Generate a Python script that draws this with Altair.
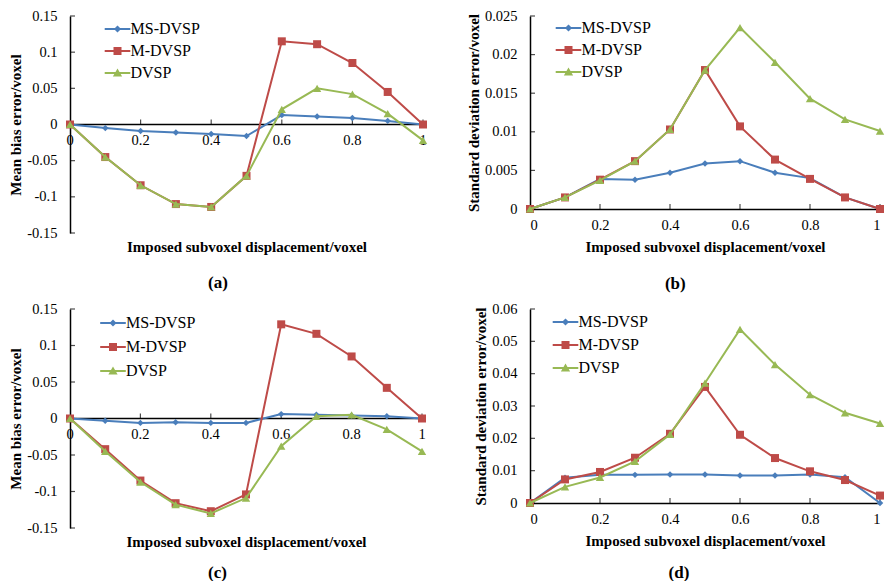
import altair as alt
import pandas as pd

x_vals = [0.0, 0.1, 0.2, 0.3, 0.4, 0.5, 0.6, 0.7, 0.8, 0.9, 1.0]
series = ["MS-DVSP", "M-DVSP", "DVSP"]
colors = ["#4A7EBB", "#BE4B48", "#98B954"]
shapes = ["diamond", "square", "triangle-up"]
sizes = [42, 64, 70]
x_tick_values = [0, 0.2, 0.4, 0.6, 0.8, 1]

# (a) mean bias error
a_ms = [0, -0.005, -0.009, -0.011, -0.013, -0.016, 0.013, 0.011, 0.009, 0.005, 0]
a_m = [0, -0.045, -0.084, -0.110, -0.114, -0.071, 0.115, 0.111, 0.085, 0.045, 0]
a_d = [0, -0.045, -0.084, -0.110, -0.114, -0.071, 0.021, 0.050, 0.042, 0.015, -0.022]
# (b) standard deviation error
b_ms = [0, 0.0015, 0.0039, 0.0038, 0.0047, 0.0059, 0.0062, 0.0047, 0.0040, 0.0015, 0]
b_m = [0, 0.0015, 0.0038, 0.0062, 0.0103, 0.0180, 0.0107, 0.0064, 0.0039, 0.0015, 0]
b_d = [0, 0.0015, 0.0037, 0.0062, 0.0103, 0.0180, 0.0235, 0.0190, 0.0143, 0.0116, 0.0101]
# (c) mean bias error
c_ms = [0, -0.003, -0.006, -0.005, -0.006, -0.006, 0.006, 0.005, 0.004, 0.003, 0]
c_m = [0, -0.042, -0.085, -0.116, -0.127, -0.104, 0.129, 0.116, 0.085, 0.042, 0]
c_d = [0, -0.045, -0.087, -0.118, -0.130, -0.109, -0.038, 0.003, 0.005, -0.015, -0.045]
# (d) standard deviation error
d_ms = [0, 0.0078, 0.0087, 0.0087, 0.0088, 0.0088, 0.0085, 0.0085, 0.0088, 0.0080, 0]
d_m = [0, 0.0073, 0.0096, 0.0140, 0.0214, 0.0359, 0.0211, 0.0139, 0.0098, 0.0071, 0.0023]
d_d = [0, 0.0050, 0.0079, 0.0129, 0.0212, 0.0371, 0.0537, 0.0428, 0.0335, 0.0279, 0.0246]

bias_ticks = [-0.15, -0.1, -0.05, 0, 0.05, 0.1, 0.15]
sd_b_ticks = [0, 0.005, 0.01, 0.015, 0.02, 0.025]
sd_d_ticks = [0, 0.01, 0.02, 0.03, 0.04, 0.05, 0.06]

# legend symbols: line segment + marker (custom paths)
legend_paths = [
    "M-1.6,-0.125H1.6V0.125H-1.6Z M0,-0.44L0.44,0L0,0.44L-0.44,0Z",
    "M-1.6,-0.125H1.6V0.125H-1.6Z M-0.5,-0.5H0.5V0.5H-0.5Z",
    "M-1.6,-0.125H1.6V0.125H-1.6Z M0,-0.55L0.58,0.45H-0.58Z",
]

SERIF = "Liberation Serif"
XTITLE = "Imposed subvoxel displacement/voxel"


def panel(vals, ydom, yticks, ytitle, caption, w, h, lx, ly, rowpad, zero_axis, cap_off):
    rows = []
    for s, arr in zip(series, vals):
        for xv, yv in zip(x_vals, arr):
            rows.append({"x": xv, "y": yv, "series": s})
    df = pd.DataFrame(rows)

    if zero_axis:
        xaxis = alt.Axis(labels=False, ticks=False, domain=False, grid=False,
                         title=XTITLE, titleFont=SERIF, titleFontSize=15,
                         titleFontWeight="bold", titleColor="black", titlePadding=6)
    else:
        xaxis = alt.Axis(values=x_tick_values, labelExpr="'' + datum.value", ticks=False,
                         grid=False, domainColor="black", domainWidth=1.5,
                         labelFont=SERIF, labelFontSize=14.5, labelColor="black", labelPadding=9,
                         title=XTITLE, titleFont=SERIF, titleFontSize=15,
                         titleFontWeight="bold", titleColor="black", titlePadding=8)
    yaxis = alt.Axis(values=yticks, labelExpr="'' + datum.value", ticks=False, grid=False,
                     domainColor="black", domainWidth=1.5, labelFont=SERIF, labelFontSize=14.5,
                     labelColor="black", labelPadding=13, title=ytitle, titleFont=SERIF,
                     titleFontSize=15, titleFontWeight="bold", titleColor="black", titlePadding=3)
    X = alt.X("x:Q", scale=alt.Scale(domain=[0, 1], nice=False), axis=xaxis)
    Y = alt.Y("y:Q", scale=alt.Scale(domain=ydom, nice=False), axis=yaxis)

    base = alt.Chart(df)
    layers = []
    # inward tick marks on the y axis
    ytdf = pd.DataFrame({"x": [0.0] * len(yticks), "y": yticks})
    layers.append(alt.Chart(ytdf).mark_tick(orient="horizontal", size=5, thickness=1.2,
                                            color="black", xOffset=2.5)
                  .encode(x=X, y=Y))
    # inward tick marks on the x axis (at y = 0)
    xt = [v for v in x_tick_values if v > 0]
    xtdf = pd.DataFrame({"x": xt, "y": [0.0] * len(xt)})
    layers.append(alt.Chart(xtdf).mark_tick(orient="vertical", size=5, thickness=1.2,
                                            color="black", yOffset=-2.5)
                  .encode(x=X, y=Y))
    if zero_axis:
        zdf = pd.DataFrame({"x": [0.0], "x2": [1.0], "y": [0.0]})
        layers.append(alt.Chart(zdf).mark_rule(color="black", strokeWidth=1.5)
                      .encode(x=X, x2="x2:Q", y=Y))
        ldf = pd.DataFrame({"x": x_tick_values, "y": [0.0] * len(x_tick_values),
                            "label": [str(v) for v in x_tick_values]})
        layers.append(alt.Chart(ldf).mark_text(baseline="top", dy=9, font=SERIF, fontSize=14.5,
                                               color="black")
                      .encode(x=X, y=Y, text="label:N"))
    for s, c, sh, sz in zip(series, colors, shapes, sizes):
        sub = base.transform_filter(alt.datum.series == s)
        layers.append(sub.mark_line(color=c, strokeWidth=2).encode(x=X, y=Y))
        layers.append(sub.mark_point(filled=True, shape=sh, size=sz, color=c, opacity=1)
                      .encode(x=X, y=Y))
    leg = alt.Legend(title=None, orient="none", legendX=lx, legendY=ly, padding=0,
                     direction="vertical", symbolSize=256, symbolOpacity=1,
                     symbolStrokeWidth=0, labelFont=SERIF, labelFontSize=16,
                     labelColor="black", labelOffset=5, rowPadding=rowpad)
    layers.append(base.transform_filter("datum.x < -5").mark_point(filled=True, opacity=1)
                  .encode(x=X, y=Y,
                          color=alt.Color("series:N", scale=alt.Scale(domain=series, range=colors),
                                          legend=leg),
                          shape=alt.Shape("series:N",
                                          scale=alt.Scale(domain=series, range=legend_paths),
                                          legend=leg)))
    return alt.layer(*layers).properties(
        width=w, height=h,
        title=alt.TitleParams(caption, orient="bottom", font=SERIF, fontSize=17,
                              fontWeight="bold", color="black", anchor="middle",
                              frame="bounds", offset=cap_off))


pa = panel([a_ms, a_m, a_d], [-0.15, 0.15], bias_ticks, "Mean bias error/voxel", "(a)",
           353, 217, 39.5, 5, 6, True, 21)
pb = panel([b_ms, b_m, b_d], [0, 0.025], sd_b_ticks, "Standard deviation error/voxel", "(b)",
           350, 193, 30.5, 4, 6, False, 21)
pc = panel([c_ms, c_m, c_d], [-0.15, 0.15], bias_ticks, "Mean bias error/voxel", "(c)",
           352, 219, 35, 6, 8, True, 16)
pd_ = panel([d_ms, d_m, d_d], [0, 0.06], sd_d_ticks, "Standard deviation error/voxel", "(d)",
            350, 194, 27.5, 5, 7, False, 16)

chart = alt.concat(pa, pb, pc, pd_, columns=2, spacing={"row": 9, "column": 38}).resolve_scale(
    color="independent", shape="independent").resolve_legend(
    color="independent", shape="independent").configure_view(
    stroke=None).properties(padding={"left": 0, "top": 0, "right": 0, "bottom": 0},
                            background="white")

chart.save("out.html", embed_options={"renderer": "svg", "actions": False})
